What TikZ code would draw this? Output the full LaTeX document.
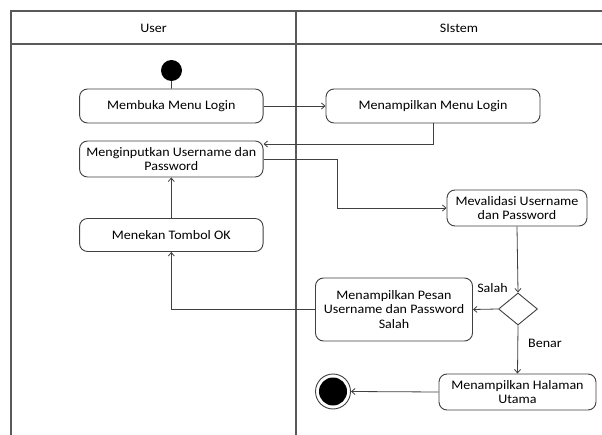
\documentclass[tikz,border=0pt]{standalone}
\usepackage{fontspec}
\setmainfont{Carlito}[FakeStretch=1.08]
\usetikzlibrary{arrows.meta,shapes.geometric}
\begin{document}
\begin{tikzpicture}[x=1pt,y=-1pt,
  lane/.style={draw=black!65,line width=1.2pt},
  act/.style={draw=black!75,line width=0.9pt,rounded corners=8pt,align=center,
    inner sep=1pt,font=\fontsize{13}{14.5}\selectfont},
  arr/.style={draw=black!75,line width=0.8pt,-{Straight Barb[length=3.5pt,width=6pt]}},
  plain/.style={draw=black!75,line width=0.8pt},
  lbl/.style={font=\fontsize{13}{14.5}\selectfont,inner sep=0pt}]
\useasboundingbox (0,0) rectangle (602,435);
\fill[white] (0,0) rectangle (602,435);
% swimlanes
\draw[lane] (11,435) -- (11,11) -- (602,11);
\draw[lane] (11,44) -- (602,44);
\draw[lane] (296,11) -- (296,435);
\node[lbl] (hu) at (153.5,28.5) {User};
\node[lbl] (hs) at (459,28.5) {SIstem};
% nodes
\node[circle,fill=black,minimum size=21pt,inner sep=0pt] (start) at (171.5,70.5) {};
\node[act,minimum width=183.5pt,minimum height=34pt] (mb) at (171.3,106) {Membuka Menu Login};
\node[act,minimum width=214pt,minimum height=34pt] (mm) at (433,106) {Menampilkan Menu Login};
\node[act,minimum width=183.5pt,minimum height=36pt] (mi) at (171.3,159) {Menginputkan Username dan\\Password};
\node[act,minimum width=140pt,minimum height=36pt] (mv) at (517,208) {Mevalidasi Username\\dan Password};
\node[act,minimum width=183.5pt,minimum height=33pt] (mt) at (171.3,235) {Menekan Tombol OK};
\node[act,minimum width=157pt,minimum height=63pt] (mp) at (394,309.5) {Menampilkan Pesan\\Username dan Password\\Salah};
\node[diamond,draw=black!75,line width=0.9pt,minimum width=39pt,minimum height=32pt,inner sep=0pt] (d) at (518,309) {};
\node[act,minimum width=157pt,minimum height=36pt] (mh) at (517.5,392) {Menampilkan Halaman\\Utama};
\node[circle,draw=black!75,line width=0.9pt,minimum size=35pt,inner sep=0pt] (end) at (333,391.5) {};
\node[circle,fill=black,minimum size=28pt,inner sep=0pt] (endin) at (end.center) {};
% connectors
\draw[plain] (start) -- (mb);
\draw[arr] (mb.east) -- (mm.west);
\draw[arr] (mm.south) |- ([yshift=15pt]mi.east);
\draw[arr] (mi.east) -- ++(74,0) |- (mv.west);
\draw[arr] (mt.north) -- (mi.south);
\draw[arr] (mp.west) -| (mt.south);
\draw[arr] (mv.south) -- (d.north);
\draw[arr] (d.west) -- (mp.east);
\draw[arr] (d.south) -- (mh.north);
\draw[arr] (mh.west) -- (end.east);
\node[lbl] (ls) at (492.5,288) {Salah};
\node[lbl] (lb) at (545,343) {Benar};
\end{tikzpicture}
\end{document}
